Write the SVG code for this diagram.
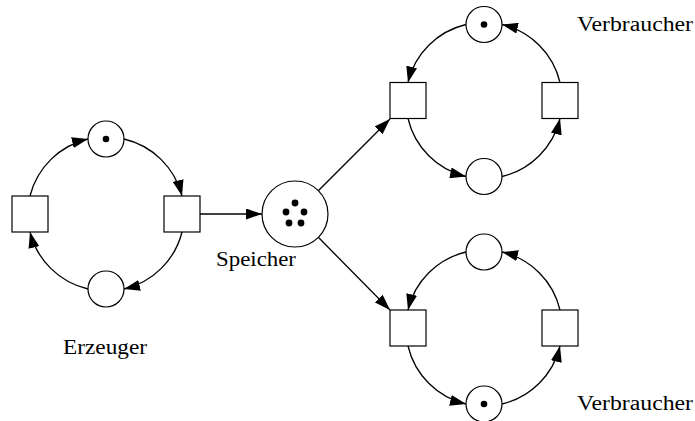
<svg xmlns="http://www.w3.org/2000/svg" width="695" height="421" viewBox="0 0 695 421">
<defs>
<marker id="ah" markerUnits="userSpaceOnUse" markerWidth="16" markerHeight="11" refX="16" refY="5.5" orient="auto">
<path d="M0,0 L16,5.5 L0,11 z" fill="#000"/>
</marker>
<style>
.pl{fill:#fff;stroke:#000;stroke-width:1.2}
.tr{fill:#fff;stroke:#000;stroke-width:1.2}
.tk{fill:#000}
.ed{fill:none;stroke:#000;stroke-width:1.3;marker-end:url(#ah)}
.lb{font-family:"Liberation Serif","Times New Roman",serif;font-size:20px;fill:#000}
</style>
</defs>
<rect width="695" height="421" fill="#fff"/>
<g id="connectors">
<path class="ed" d="M30,196 A78,78 0 0 1 88,139"/>
<path class="ed" d="M124,139 A78,78 0 0 1 182,196"/>
<path class="ed" d="M182,232 A78,78 0 0 1 124,289"/>
<path class="ed" d="M88,289 A78,78 0 0 1 30,232"/>
<path class="ed" d="M200,214 L262,214"/>
<path class="ed" d="M318.3,190.7 L390,119"/>
<path class="ed" d="M318.3,237.3 L390,310"/>
<path class="ed" d="M466,24.5 A78,78 0 0 0 408,82.5"/>
<path class="ed" d="M408,118.5 A78,78 0 0 0 466,176.5"/>
<path class="ed" d="M502,176.5 A78,78 0 0 0 560,118.5"/>
<path class="ed" d="M560,82.5 A78,78 0 0 0 502,24.5"/>
<path class="ed" d="M466,252 A78,78 0 0 0 408,310"/>
<path class="ed" d="M408,346 A78,78 0 0 0 466,404"/>
<path class="ed" d="M502,404 A78,78 0 0 0 560,346"/>
<path class="ed" d="M560,310 A78,78 0 0 0 502,252"/>
</g>
<g id="erzeuger-p1"><circle class="pl" cx="106" cy="139" r="18"/><circle class="tk" cx="106" cy="139" r="3.3"/></g>
<g id="erzeuger-p2"><circle class="pl" cx="106" cy="289" r="18"/></g>
<g id="erzeuger-t1"><rect class="tr" x="12" y="196" width="36" height="36"/></g>
<g id="erzeuger-t2"><rect class="tr" x="164" y="196" width="36" height="36"/></g>
<g id="erzeuger-label"><text class="lb" x="63" y="354" textLength="84" lengthAdjust="spacingAndGlyphs">Erzeuger</text></g>
<g id="speicher">
<circle class="pl" cx="295" cy="214" r="33"/>
<circle class="tk" cx="295" cy="203" r="3.4"/>
<circle class="tk" cx="286" cy="212" r="3.4"/>
<circle class="tk" cx="304" cy="212" r="3.4"/>
<circle class="tk" cx="289" cy="223" r="3.4"/>
<circle class="tk" cx="301" cy="223" r="3.4"/>
<text class="lb" x="216" y="266" textLength="80" lengthAdjust="spacingAndGlyphs">Speicher</text>
</g>
<g id="v1-p1"><circle class="pl" cx="484" cy="24.5" r="18"/><circle class="tk" cx="484" cy="24.5" r="3.3"/></g>
<g id="v1-p2"><circle class="pl" cx="484" cy="176.5" r="18"/></g>
<g id="v1-t1"><rect class="tr" x="390" y="82.5" width="36" height="36"/></g>
<g id="v1-t2"><rect class="tr" x="542" y="82.5" width="36" height="36"/></g>
<g id="v1-label"><text class="lb" x="577" y="31" textLength="116" lengthAdjust="spacingAndGlyphs">Verbraucher</text></g>
<g id="v2-p1"><circle class="pl" cx="484" cy="252" r="18"/></g>
<g id="v2-p2"><circle class="pl" cx="484" cy="404" r="18"/><circle class="tk" cx="484" cy="404" r="3.3"/></g>
<g id="v2-t1"><rect class="tr" x="390" y="310" width="36" height="36"/></g>
<g id="v2-t2"><rect class="tr" x="542" y="310" width="36" height="36"/></g>
<g id="v2-label"><text class="lb" x="577" y="410" textLength="116" lengthAdjust="spacingAndGlyphs">Verbraucher</text></g>
</svg>
